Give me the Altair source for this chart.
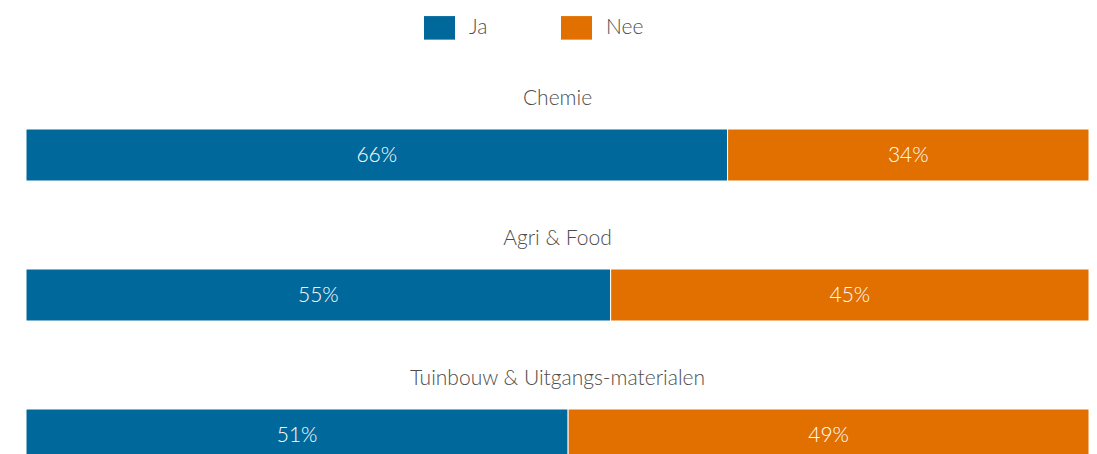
import altair as alt
import pandas as pd

categories = ["Chemie", "Agri & Food", "Tuinbouw & Uitgangs-materialen"]
answers = ["Ja", "Nee"]
ja_values = [66, 55, 51]
nee_values = [34, 45, 49]
colors = ["#01689b", "#e17000"]

FONT = "Lato"
GREY = "#4d4d4d"
FS = 21

rows = []
for cat, j, n in zip(categories, ja_values, nee_values):
    rows.append({"category": cat, "answer": "Ja", "value": j, "order": 0})
    rows.append({"category": cat, "answer": "Nee", "value": n, "order": 1})
df = pd.DataFrame(rows)

yenc = alt.Y("category:N", sort=categories,
             scale=alt.Scale(paddingInner=0, paddingOuter=0),
             axis=None)
xscale = alt.Scale(domain=[0, 100], nice=False, zero=True)

base = alt.Chart(df).transform_stack(
    stack="value", groupby=["category"], as_=["x0", "x1"],
    sort=[alt.SortField(field="order", order="ascending")]
)

bars = base.mark_bar(size=52, stroke="white", strokeWidth=1).encode(
    x=alt.X("x0:Q", scale=xscale, axis=None),
    x2="x1:Q",
    y=yenc,
    color=alt.Color(
        "answer:N",
        scale=alt.Scale(domain=answers, range=colors),
        legend=alt.Legend(
            orient="none", legendX=398, legendY=-73, direction="horizontal",
            title=None, symbolType="M-1,-0.76H1V0.76H-1Z", symbolSize=961,
            symbolStrokeWidth=0, labelFontSize=FS, labelFont=FONT,
            labelFontWeight=300,
            labelColor=GREY, labelOffset=14, columnPadding=73, padding=0,
        ),
    ),
)

labels = base.transform_calculate(
    mid="(datum.x0 + datum.x1) / 2", label="datum.value + '%'"
).mark_text(color="white", fontSize=FS, font=FONT, fontWeight=300,
            baseline="middle", dy=1).encode(
    x=alt.X("mid:Q", scale=xscale, axis=None),
    y=yenc,
    text="label:N",
)

titles = alt.Chart(pd.DataFrame({"category": categories})).mark_text(
    dy=-56, color=GREY, fontSize=FS, font=FONT, fontWeight=300,
    baseline="middle"
).encode(
    x=alt.datum(50),
    y=yenc,
    text="category:N",
)

chart = alt.layer(bars, labels, titles).properties(
    width=1063, height=420,
    autosize=alt.AutoSizeParams(type="none"),
    padding={"left": 18, "top": 77, "right": 0, "bottom": 0},
).configure_view(stroke=None)

chart.save("out.html", embed_options={"renderer": "svg", "actions": False})
